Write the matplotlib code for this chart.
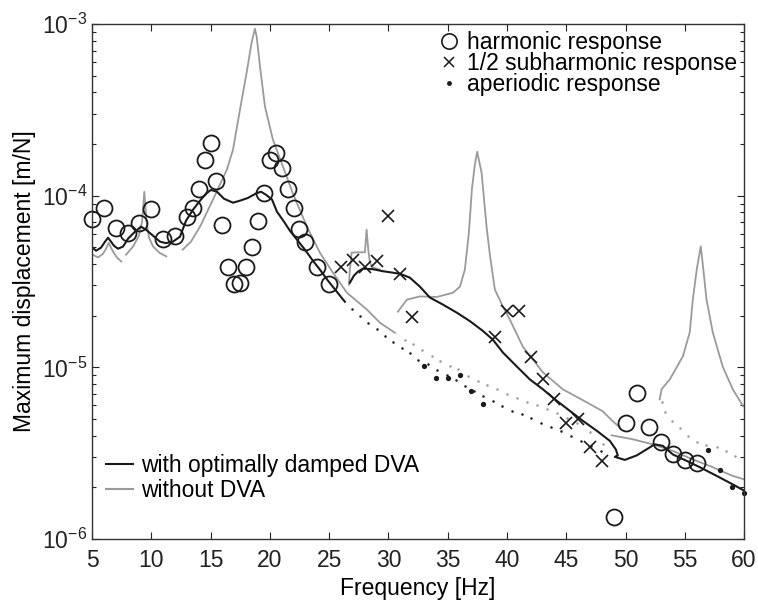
import numpy as np
import matplotlib.pyplot as plt
from matplotlib.lines import Line2D
from matplotlib.ticker import LogLocator, NullFormatter

plt.rcParams['font.family'] = ['Liberation Sans', 'DejaVu Sans']
plt.rcParams['mathtext.fontset'] = 'custom'
plt.rcParams['mathtext.rm'] = 'Liberation Sans'
plt.rcParams['mathtext.it'] = 'Liberation Sans:italic'

# --- measured points ---
harm_f = [5, 6, 7, 8, 9, 10, 11, 12, 13, 13.5, 14, 14.5, 15, 15.5, 16, 16.5, 17, 17.5,
          18, 18.5, 19, 19.5, 20, 20.5, 21, 21.5, 22, 22.5, 23, 24, 25,
          49, 50, 51, 52, 53, 54, 55, 56]
harm_v = [7.29e-5, 8.45e-5, 6.46e-5, 6.09e-5, 6.97e-5, 8.33e-5, 5.60e-5, 5.82e-5, 7.48e-5,
          8.45e-5, 1.09e-4, 1.61e-4, 2.04e-4, 1.21e-4, 6.73e-5, 3.86e-5, 3.06e-5, 3.08e-5,
          3.86e-5, 5.05e-5, 7.15e-5, 1.04e-4, 1.61e-4, 1.78e-4, 1.44e-4, 1.10e-4, 8.45e-5,
          6.43e-5, 5.40e-5, 3.86e-5, 3.06e-5,
          1.35e-6, 4.72e-6, 7.06e-6, 4.51e-6, 3.69e-6, 3.12e-6, 2.89e-6, 2.76e-6]

sub_f = [26, 27, 28, 29, 30, 31, 32, 39, 40, 41, 42, 43, 44, 45, 46, 47, 48]
sub_v = [3.86e-5, 4.22e-5, 3.83e-5, 4.17e-5, 7.62e-5, 3.50e-5, 1.97e-5, 1.51e-5, 2.14e-5,
         2.13e-5, 1.145e-5, 8.53e-6, 6.55e-6, 4.72e-6, 5.02e-6, 3.45e-6, 2.86e-6]

aper_f = [33, 34, 35, 36, 37, 38, 57, 58, 59, 60]
aper_v = [1.02e-5, 8.68e-6, 8.68e-6, 9.03e-6, 7.31e-6, 6.12e-6, 3.29e-6, 2.53e-6, 2.00e-6, 1.86e-6]

# --- with optimally damped DVA (black) ---
dva1_f = [5.04, 5.34, 5.76, 6.10, 6.35, 6.60, 6.85, 7.19, 7.61, 8.04, 8.54, 9.13, 9.55, 10.14,
          10.73, 11.24, 11.83, 12.42, 12.93, 13.52, 14.11, 14.61, 15.03, 15.54, 16.13, 16.89,
          17.48, 18.15, 18.83, 19.25, 19.67, 20.18, 20.60, 21.19, 21.69, 22.29, 22.96, 23.63,
          24.22, 24.90, 25.57, 26.33]
dva1_v = [4.98e-5, 4.78e-5, 4.98e-5, 5.40e-5, 5.69e-5, 5.40e-5, 5.11e-5, 4.91e-5, 5.05e-5,
          5.62e-5, 6.09e-5, 6.60e-5, 6.34e-5, 5.85e-5, 5.40e-5, 5.29e-5, 5.40e-5, 5.77e-5,
          7.15e-5, 8.29e-5, 9.35e-5, 1.027e-4, 1.08e-4, 1.055e-4, 9.6e-5, 9.1e-5, 9.35e-5,
          9.7e-5, 1.03e-4, 1.055e-4, 1.013e-4, 9.5e-5, 8.07e-5, 7.06e-5, 6.25e-5, 5.54e-5,
          4.85e-5, 4.18e-5, 3.71e-5, 3.20e-5, 2.80e-5, 2.41e-5]
dva2_f = [26.75, 27.09, 27.43, 27.85, 28.69, 29.54, 30.38, 30.97, 31.81, 32.66, 33.50, 34.60,
          35.78, 36.87, 37.97, 38.81, 39.66, 40.84, 41.93, 43.03, 44.21, 45.30, 46.40, 47.58,
          48.68, 49.18, 49.35, 49.10, 49.94, 50.95, 52.05, 52.47, 53.15, 53.99, 55.17, 56.27,
          57.70, 59.05, 59.97]
dva2_v = [3.11e-5, 3.42e-5, 3.61e-5, 3.76e-5, 3.73e-5, 3.63e-5, 3.56e-5, 3.51e-5, 3.33e-5,
          2.95e-5, 2.55e-5, 2.32e-5, 2.08e-5, 1.86e-5, 1.63e-5, 1.45e-5, 1.22e-5, 1.01e-5,
          8.51e-6, 7.45e-6, 6.38e-6, 5.58e-6, 4.88e-6, 4.27e-6, 3.73e-6, 3.33e-6, 3.07e-6,
          3.01e-6, 2.89e-6, 3.07e-6, 3.42e-6, 3.56e-6, 3.49e-6, 3.11e-6, 2.85e-6, 2.62e-6,
          2.33e-6, 2.08e-6, 1.92e-6]
dva_dot_f = [26.92, 27.60, 28.27, 29.03, 29.70, 30.38, 31.14, 31.81, 32.49, 33.33, 34.09,
             34.93, 35.69, 36.45, 37.21, 37.97, 38.81, 39.57, 40.41, 41.26, 42.02, 42.86,
             43.70, 44.55, 45.39, 46.23, 47.08, 47.92]
dva_dot_v = [2.20e-5, 2.00e-5, 1.82e-5, 1.68e-5, 1.53e-5, 1.41e-5, 1.30e-5, 1.22e-5, 1.11e-5,
             1.04e-5, 9.60e-6, 8.98e-6, 8.40e-6, 7.75e-6, 7.25e-6, 6.78e-6, 6.34e-6, 5.93e-6,
             5.54e-6, 5.32e-6, 5.05e-6, 4.72e-6, 4.47e-6, 4.24e-6, 3.96e-6, 3.71e-6, 3.47e-6,
             3.24e-6]

# --- without DVA (grey) ---
no1_f = [5.04, 5.51, 5.93, 6.18, 6.41, 6.60, 6.77, 7.11, 7.47]
no1_v = [4.53e-5, 4.37e-5, 4.59e-5, 4.91e-5, 5.32e-5, 4.98e-5, 4.72e-5, 4.36e-5, 4.14e-5]
no2_f = [7.87, 8.46, 8.96, 9.22, 9.41, 9.60, 9.81, 10.14, 10.71, 11.26]
no2_v = [4.53e-5, 5.05e-5, 5.85e-5, 7.06e-5, 1.055e-4, 7.06e-5, 5.69e-5, 5.07e-5, 4.64e-5, 4.43e-5]
no3_f = [12.65, 13.35, 14.11, 15.20, 16.38, 16.89, 17.48, 18.04, 18.46, 18.74, 18.89, 19.17,
         19.59, 20.26, 21.10, 21.95, 23.13, 24.22, 25.32, 26.50, 28.19, 29.28, 30.55]
no3_v = [4.85e-5, 5.40e-5, 6.60e-5, 9.48e-5, 1.42e-4, 1.85e-4, 3.17e-4, 5.20e-4, 7.78e-4,
         9.39e-4, 8.43e-4, 5.64e-4, 3.30e-4, 2.12e-4, 1.48e-4, 1.027e-4, 6.60e-5, 4.66e-5,
         3.56e-5, 2.72e-5, 2.17e-5, 1.82e-5, 1.59e-5]
no4_f = [26.67, 26.75, 26.90, 27.60, 28.02, 28.16, 28.30, 28.44, 28.69, 29.28]
no4_v = [3.03e-5, 3.71e-5, 4.66e-5, 4.68e-5, 4.68e-5, 6.34e-5, 4.85e-5, 4.07e-5, 3.81e-5, 3.71e-5]
no5_f = [30.80, 31.56, 32.66, 34.09, 35.44, 36.03, 36.45, 36.79, 37.04, 37.29, 37.49, 37.86,
         38.28, 38.56, 38.98, 39.66, 40.24, 41.34, 43.03, 44.71, 46.74, 48.09, 48.93, 49.52]
no5_v = [2.11e-5, 2.48e-5, 2.59e-5, 2.57e-5, 2.72e-5, 2.95e-5, 3.71e-5, 6.09e-5, 1.084e-4,
         1.515e-4, 1.80e-4, 1.36e-4, 6.60e-5, 4.53e-5, 2.84e-5, 2.26e-5, 1.90e-5, 1.32e-5,
         9.35e-6, 7.45e-6, 6.25e-6, 5.54e-6, 4.85e-6, 4.47e-6]
no6_f = [48.82, 50.62, 52.30, 53.99, 55.67, 57.36, 59.05, 59.97]
no6_v = [4.02e-6, 3.81e-6, 3.56e-6, 3.26e-6, 2.91e-6, 2.62e-6, 2.33e-6, 2.23e-6]
no7_f = [52.89, 53.04, 53.74, 54.84, 55.42, 55.68, 56.01, 56.35, 56.54, 56.83, 57.36, 58.20,
         59.05, 59.93]
no7_v = [6.51e-6, 7.45e-6, 8.51e-6, 1.16e-5, 1.60e-5, 2.49e-5, 3.72e-5, 5.07e-5, 3.87e-5,
         2.49e-5, 1.60e-5, 1.01e-5, 7.45e-6, 5.93e-6]
no_dotB_f = [31.39, 32.07, 32.83, 33.67, 34.34, 35.19, 35.86, 36.70, 37.55, 38.31, 39.15,
             39.99, 40.83, 41.68, 42.52, 43.36, 44.21, 45.05, 45.89, 46.99, 48.09]
no_dotB_v = [1.45e-5, 1.36e-5, 1.27e-5, 1.17e-5, 1.09e-5, 1.02e-5, 9.74e-6, 8.86e-6, 8.29e-6,
             7.85e-6, 7.45e-6, 6.96e-6, 6.60e-6, 6.25e-6, 6.01e-6, 5.69e-6, 5.40e-6, 5.05e-6,
             4.72e-6, 4.18e-6, 3.56e-6]
no_dotC_f = [53.07, 53.32, 53.91, 54.58, 55.25, 56.01, 56.77, 57.70, 58.46, 59.22]
no_dotC_v = [6.25e-6, 5.47e-6, 4.85e-6, 4.41e-6, 3.96e-6, 3.66e-6, 3.51e-6, 3.42e-6, 3.24e-6, 3.03e-6]

black = '#1a1a1a'
grey = '#9a9a9a'

fig = plt.figure(figsize=(7.58, 6.03), dpi=100)
ax = fig.add_axes([0.1214, 0.1061, 0.8602, 0.8541])

for f, v in [(no1_f, no1_v), (no2_f, no2_v), (no3_f, no3_v), (no4_f, no4_v),
             (no5_f, no5_v), (no6_f, no6_v), (no7_f, no7_v)]:
    ax.plot(f, v, color=grey, lw=1.3)
ax.plot(no_dotB_f, no_dotB_v, ls='none', marker='o', ms=1.8, color=grey, mew=0)
ax.plot(no_dotC_f, no_dotC_v, ls='none', marker='o', ms=1.8, color=grey, mew=0)

ax.plot(dva1_f, dva1_v, color=black, lw=1.5)
ax.plot(dva2_f, dva2_v, color=black, lw=1.5)
ax.plot(dva_dot_f, dva_dot_v, ls='none', marker='o', ms=1.8, color=black, mew=0)

ax.plot(harm_f, harm_v, ls='none', marker='o', ms=11.5, mfc='none', mec=black, mew=1.3,
        clip_on=False)
ax.plot(sub_f, sub_v, ls='none', marker='x', ms=8, color=black, mew=1.2, clip_on=False)
ax.plot(aper_f, aper_v, ls='none', marker='o', ms=3.8, color=black, mew=0, clip_on=False)

ax.set_yscale('log')
ax.set_xlim(5, 60)
ax.set_ylim(1e-6, 1e-3)
ax.set_xticks(np.arange(5, 61, 5))
ax.yaxis.set_minor_locator(LogLocator(base=10, subs=np.arange(2, 10)))
ax.yaxis.set_minor_formatter(NullFormatter())
ax.tick_params(which='both', direction='in', top=True, right=True, labelsize=16.5,
               colors='#222222')
ax.tick_params(which='major', length=5, width=0.8)
ax.tick_params(which='minor', length=3, width=0.8)
ax.tick_params(axis='x', pad=7)
for s in ax.spines.values():
    s.set_linewidth(1.0)
    s.set_color('#333333')

ax.set_xlabel('Frequency [Hz]', fontsize=16.5, labelpad=4)
ax.set_ylabel('Maximum displacement [m/N]', fontsize=16.5, labelpad=4)

h_marks = [Line2D([], [], ls='none', marker='o', ms=11, mfc='none', mec=black, mew=1.2),
           Line2D([], [], ls='none', marker='x', ms=7, color=black, mew=1.1),
           Line2D([], [], ls='none', marker='o', ms=3.5, color=black, mew=0)]
leg1 = ax.legend(h_marks, ['harmonic response', '1/2 subharmonic response', 'aperiodic response'],
                 loc='upper right', bbox_to_anchor=(1.0, 1.0), frameon=False, fontsize=16.5,
                 handlelength=1.0, handletextpad=0.3, labelspacing=-0.08, borderpad=0.05,
                 borderaxespad=0.25)
ax.add_artist(leg1)

h_lines = [Line2D([], [], color=black, lw=1.5), Line2D([], [], color=grey, lw=1.5)]
ax.legend(h_lines, ['with optimally damped DVA', 'without DVA'], loc='lower left',
          bbox_to_anchor=(0.0, 0.045), frameon=False, fontsize=16.5, handlelength=1.2,
          handletextpad=0.35, labelspacing=0.07, borderpad=0.1, borderaxespad=0.5)

fig.savefig('out.png', dpi=100)
